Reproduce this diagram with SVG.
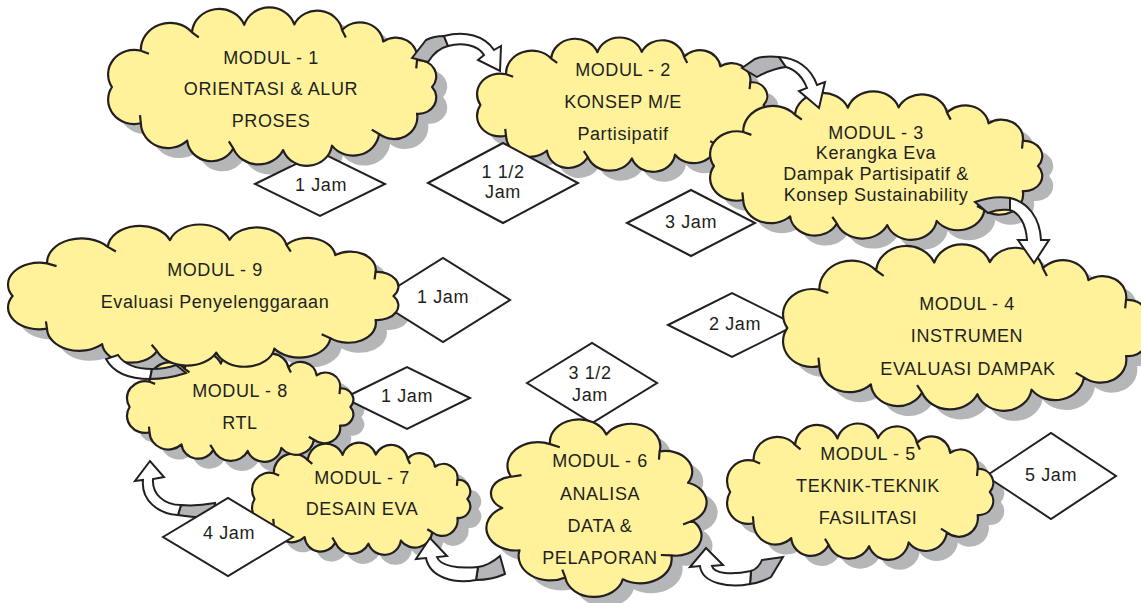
<svg xmlns="http://www.w3.org/2000/svg" width="1141" height="603" viewBox="0 0 1141 603">
<style>
.cl{fill:#fff29b;stroke:#231f20;stroke-width:2.2;stroke-linejoin:round}
.sh{fill:#b5b6b8;stroke:none}
.dm{fill:#ffffff;stroke:#231f20;stroke-width:2}
.t{font-family:"Liberation Sans",Arial,sans-serif;font-size:18px;fill:#231f20;text-anchor:middle;letter-spacing:0.6px}
.gr{fill:#b3b5b8;stroke:#231f20;stroke-width:2;stroke-linejoin:miter}
.wh{fill:#ffffff;stroke:#231f20;stroke-width:2;stroke-linejoin:miter}
</style>
<defs>
<path id="cw" vector-effect="non-scaling-stroke" d="M -165,0 A 27 27 0 0 1 -135.2,-40.2 A 30 30 0 0 1 -82.5,-60.6 A 28 28 0 0 1 -28.6,-68.9 A 27 27 0 0 1 23,-69.3 A 26 26 0 0 1 72.3,-62.9 A 24 24 0 0 1 114.6,-50.4 A 22 22 0 0 1 149.5,-29.6 A 18 18 0 0 1 165,0 A 18 18 0 0 1 149.5,29.6 A 24 24 0 0 1 110.4,52 A 27 27 0 0 1 61.8,64.9 A 26 26 0 0 1 11.5,69.8 A 28 28 0 0 1 -39.9,67.9 A 25 25 0 0 1 -87.4,59.4 A 28 28 0 0 1 -135.2,40.2 A 27 27 0 0 1 -165,0 Z M -82.5,-60.6 L -75.5,-54.9 M 72.3,-62.9 L 76.1,-54.8 M 149.5,-29.6 L 148.7,-20.6 M 110.4,52 L 102.8,47.2 M -39.9,67.9 L -44.5,60.2 M -135.2,40.2 L -136.1,31.2 M -135.2,-40.2 L -126.9,-36.8"/>
<path id="cr" vector-effect="non-scaling-stroke" d="M -82,0 A 18.5 18.5 0 0 1 -74.3,-34.7 A 26 26 0 0 1 -41,-71 A 24.8 24.8 0 0 1 7.1,-81.7 A 25 25 0 0 1 52.7,-62.8 A 23 23 0 0 1 77.1,-28 A 23 23 0 0 1 80.8,14.2 A 22 22 0 0 1 62.8,52.7 A 27 27 0 0 1 21.2,79.2 A 25 25 0 0 1 -28,77.1 A 27 27 0 0 1 -67.2,47 A 25 25 0 0 1 -82,0 Z M -41,-71 L -32.7,-67.5 M 52.7,-62.8 L 52.2,-53.8 M 62.8,52.7 L 53.8,52.2 M -28,77.1 L -30.6,68.5 M -74.3,-34.7 L -65.5,-36.6 M 80.8,14.2 L 72.8,18.3"/>
</defs>
<rect width="1141" height="603" fill="#ffffff"/>
<g id="shadows">
<use href="#cw" class="sh" transform="translate(283,97) scale(0.970,0.903)"/>
<use href="#cw" class="sh" transform="translate(633,115) scale(0.858,0.766)"/>
<use href="#cw" class="sh" transform="translate(887,176) scale(0.982,0.846)"/>
<use href="#cw" class="sh" transform="translate(976,338) scale(1.077,0.949)"/>
<use href="#cw" class="sh" transform="translate(871,502) scale(0.787,0.777)"/>
<use href="#cr" class="sh" transform="translate(609,518) scale(1.168,0.900)"/>
<use href="#cw" class="sh" transform="translate(372,509) scale(0.645,0.640)"/>
<use href="#cw" class="sh" transform="translate(251,417) scale(0.669,0.629)"/>
<use href="#cw" class="sh" transform="translate(214,306) scale(1.154,0.811)"/>
</g>
<g id="d1"><polygon class="dm" points="255,184 320,152 385,184 320,216"/><text class="t" x="321" y="190.5">1 Jam</text></g>
<g id="d3"><polygon class="dm" points="627,223 691,190 755,223 691,256"/><text class="t" x="691" y="227.5">3 Jam</text></g>
<g id="d4"><polygon class="dm" points="376,300 443,258 510,300 443,342"/><text class="t" x="443" y="302.5">1 Jam</text></g>
<g id="d5"><polygon class="dm" points="344,398 407,367 470,398 407,429"/><text class="t" x="407" y="401.5">1 Jam</text></g>
<g id="d6"><polygon class="dm" points="668,325 732,293 796,325 732,357"/><text class="t" x="735" y="330">2 Jam</text></g>
<g id="d7"><polygon class="dm" points="527,383 592,343 657,383 592,423"/><text class="t" x="590" y="379">3 1/2</text><text class="t" x="590" y="400.5">Jam</text></g>
<g id="d9"><polygon class="dm" points="986,476 1051,433 1116,476 1051,519"/><text class="t" x="1051" y="481">5 Jam</text></g>
<g id="m1"><use href="#cw" class="cl" transform="translate(272,87) scale(0.970,0.903)"/>
<text class="t" x="271" y="63.5">MODUL - 1</text><text class="t" x="271" y="94.5">ORIENTASI &amp; ALUR</text><text class="t" x="271" y="127">PROSES</text></g>
<g id="m2"><use href="#cw" class="cl" transform="translate(622,105) scale(0.858,0.766)"/>
<text class="t" x="623" y="75.5">MODUL - 2</text><text class="t" x="623" y="108">KONSEP M/E</text><text class="t" x="623" y="139.5">Partisipatif</text></g>
<g id="m3"><use href="#cw" class="cl" transform="translate(876,166) scale(0.982,0.846)"/>
<text class="t" x="876" y="138.5">MODUL - 3</text><text class="t" x="876" y="159">Kerangka Eva</text><text class="t" x="876" y="180">Dampak Partisipatif &amp;</text><text class="t" x="876" y="200.5">Konsep Sustainability</text></g>
<g id="m4"><use href="#cw" class="cl" transform="translate(965,328) scale(1.077,0.949)"/>
<text class="t" x="967" y="309.5">MODUL - 4</text><text class="t" x="967" y="342">INSTRUMEN</text><text class="t" x="968" y="375">EVALUASI DAMPAK</text></g>
<g id="m5"><use href="#cw" class="cl" transform="translate(860,492) scale(0.787,0.777)"/>
<text class="t" x="868" y="459.5">MODUL - 5</text><text class="t" x="868" y="491.5">TEKNIK-TEKNIK</text><text class="t" x="868" y="524">FASILITASI</text></g>
<g id="m6"><use href="#cr" class="cl" transform="translate(598,508) scale(1.168,0.900)"/>
<text class="t" x="600" y="467">MODUL - 6</text><text class="t" x="600" y="499.5">ANALISA</text><text class="t" x="600" y="532">DATA &amp;</text><text class="t" x="600" y="564">PELAPORAN</text></g>
<g id="m7"><use href="#cw" class="cl" transform="translate(361,499) scale(0.645,0.640)"/>
<text class="t" x="362" y="483.5">MODUL - 7</text><text class="t" x="362" y="515">DESAIN EVA</text></g>
<g id="m8"><use href="#cw" class="cl" transform="translate(240,407) scale(0.669,0.629)"/>
<text class="t" x="240" y="397">MODUL - 8</text><text class="t" x="240" y="429">RTL</text></g>
<g id="m9"><use href="#cw" class="cl" transform="translate(203,296) scale(1.154,0.811)"/>
<text class="t" x="215" y="276">MODUL - 9</text><text class="t" x="215" y="308">Evaluasi Penyelenggaraan</text></g>
<g id="d2"><polygon class="dm" points="428,183 503,143 578,183 503,223"/><text class="t" x="503" y="177.5">1 1/2</text><text class="t" x="503" y="198">Jam</text></g>
<g id="connectors">
<g id="a12"><path class="gr" d="M 412,58 L 426,40 C 432,37 438,36 444,36 L 448,46 C 440,48 433,54 428,62 Z"/><path class="wh" d="M 444,36 C 465,30 485,36 494,50 L 501,46 L 500,71 L 478,60 L 484,55 C 478,45 462,42 448,46 Z"/></g>
<g id="a23"><path class="gr" d="M 742,68 L 755,59 C 763,56 771,56 779,57 L 786,67 C 776,68 766,72 757,77 Z"/><path class="wh" d="M 779,57 C 797,58 811,68 817,85 L 825,82 L 819,108 L 799,91 L 807,88 C 803,78 796,70 786,67 Z"/></g>
<g id="a34"><path class="gr" d="M 975,202 L 988,213 C 995,210 1002,209 1010,210 L 1010,198 C 998,196 986,198 975,202 Z"/><path class="wh" d="M 1010,198 C 1028,202 1040,218 1041,240 L 1049,240 L 1034,263 L 1018,240 L 1027,240 C 1026,225 1020,213 1010,210 Z"/></g>
<g id="a56"><path class="gr" d="M 783,557 L 771,577 C 764,581 757,583 750,584 L 751,571 C 757,569 760,565 762,560 Z"/><path class="wh" d="M 750,584 C 730,588 702,584 700,566 L 690,567 L 706,548 L 723,565 L 712,566 C 714,574 732,575 751,571 Z"/></g>
<g id="a67"><path class="gr" d="M 500,556 L 505,574 C 496,578 486,580 476,580 L 478,567 C 486,566 493,562 500,556 Z"/><path class="wh" d="M 476,580 C 455,584 430,578 426,558 L 416,559 L 430,538 L 447,556 L 437,557 C 440,566 458,569 478,567 Z"/></g>
<g id="a78"><path class="gr" d="M 215,503 L 213,517 C 202,518 190,517 178,515 L 181,505 C 192,506 204,505 215,503 Z"/><path class="wh" d="M 178,515 C 158,514 141,500 143,480 L 135,481 L 150,461 L 164,477 L 153,479 C 152,494 164,505 181,505 Z"/></g>
<g id="a89"><path class="wh" d="M 106,359 C 113,372 128,379 150,379 L 152,369 C 136,369 124,364 118,355 Z"/><path class="gr" d="M 150,379 C 162,379 174,377 186,373 L 176,365 C 168,368 160,369 152,369 Z"/></g>
</g>
<g id="d8"><polygon class="dm" points="163,537 228,498 293,537 228,576"/><text class="t" x="229" y="539">4 Jam</text></g>
</svg>
